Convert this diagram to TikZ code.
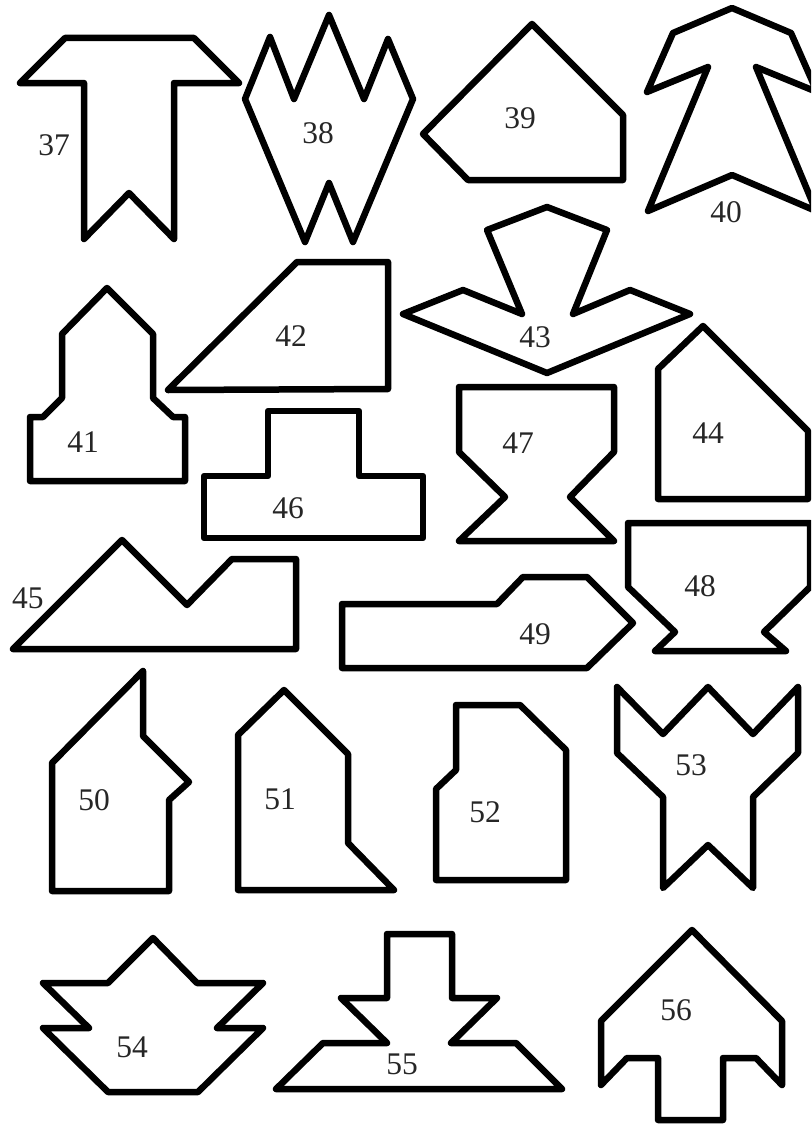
\documentclass[tikz,border=0pt]{standalone}
\usepackage{fontspec}
\setmainfont{Liberation Serif}
\begin{document}
\begin{tikzpicture}[x=1pt,y=-1pt,
  piece/.style={draw=black,line width=6.5pt,line join=round,line cap=round},
  lbl/.style={font=\fontsize{31.5}{31.5}\selectfont,inner sep=0pt,text=black!85}]
\useasboundingbox (0,0) rectangle (811,1124);
\fill[white] (0,0) rectangle (811,1124);
\clip (0,0) rectangle (811,1124);
% 37
\draw[piece] (20,83) -- (65,38) -- (194,38) -- (239,83) -- (174,83) -- (174,239) -- (129,193) -- (84,239) -- (84,83) -- cycle;
\node[lbl] (l37) at (54,145) {37};
% 38
\draw[piece] (270,37) -- (294,99) -- (329,15) -- (364,99) -- (388,39) -- (413,99) -- (353,242) -- (329,183) -- (305,242) -- (245,99) -- cycle;
\node[lbl] (l38) at (318,133) {38};
% 39
\draw[piece] (423,134) -- (532,24) -- (623,115) -- (623,180) -- (468,180) -- cycle;
\node[lbl] (l39) at (520,118) {39};
% 40
\draw[piece] (732,8) -- (791,33) -- (817,92) -- (756,67) -- (816,211) -- (732,175) -- (648,211) -- (708,67) -- (647,92) -- (673,33) -- cycle;
\node[lbl] (l40) at (726,212) {40};
% 41
\draw[piece] (107,288) -- (153,334) -- (153,398) -- (173,417) -- (185,417) -- (185,481) -- (30,481) -- (30,417) -- (43,417) -- (62,398) -- (62,334) -- cycle;
\node[lbl] (l41) at (83,442) {41};
% 42
\draw[piece] (168,390) -- (297,262) -- (388,262) -- (388,389) -- cycle;
\node[lbl] (l42) at (291,336) {42};
% 43
\draw[piece] (547,207) -- (607,230) -- (573,314) -- (630,290) -- (690,314) -- (547,373) -- (403,314) -- (463,290) -- (522,314) -- (487,230) -- cycle;
\node[lbl] (l43) at (535,337) {43};
% 44
\draw[piece] (703,326) -- (808,431) -- (808,499) -- (658,499) -- (658,369) -- cycle;
\node[lbl] (l44) at (708,433) {44};
% 46
\draw[piece] (204,476) -- (268,476) -- (268,411) -- (359,411) -- (359,476) -- (423,476) -- (423,538) -- (204,538) -- cycle;
\node[lbl] (l46) at (288,508) {46};
% 47
\draw[piece] (459,387) -- (614,387) -- (614,452) -- (570,497) -- (614,541) -- (459,541) -- (505,497) -- (459,452) -- cycle;
\node[lbl] (l47) at (518,443) {47};
% 45
\draw[piece] (13,649) -- (122,540) -- (187,605) -- (232,559) -- (296,559) -- (296,649) -- cycle;
\node[lbl] (l45) at (28,598) {45};
% 48
\draw[piece] (628,523) -- (810,523) -- (810,587) -- (764,632) -- (786,651) -- (655,651) -- (675,632) -- (628,587) -- cycle;
\node[lbl] (l48) at (700,586) {48};
% 49
\draw[piece] (342,604) -- (497,604) -- (523,577) -- (587,577) -- (633,623) -- (587,668) -- (342,668) -- cycle;
\node[lbl] (l49) at (535,634) {49};
% 50
\draw[piece] (143,671) -- (143,736) -- (189,782) -- (169,800) -- (169,891) -- (52,891) -- (52,763) -- cycle;
\node[lbl] (l50) at (94,800) {50};
% 51
\draw[piece] (284,690) -- (348,754) -- (348,843) -- (394,890) -- (238,890) -- (238,735) -- cycle;
\node[lbl] (l51) at (280,799) {51};
% 52
\draw[piece] (456,705) -- (520,705) -- (566,750) -- (566,880) -- (436,880) -- (436,789) -- (456,770) -- cycle;
\node[lbl] (l52) at (485,812) {52};
% 53
\draw[piece] (617,687) -- (663,734) -- (708,687) -- (753,734) -- (798,687) -- (798,753) -- (753,797) -- (753,888) -- (708,845) -- (663,888) -- (663,797) -- (617,753) -- cycle;
\node[lbl] (l53) at (691,765) {53};
% 54
\draw[piece] (153,938) -- (197,983) -- (263,983) -- (217,1028) -- (263,1028) -- (198,1092) -- (108,1092) -- (43,1028) -- (89,1028) -- (43,983) -- (108,983) -- cycle;
\node[lbl] (l54) at (132,1047) {54};
% 55
\draw[piece] (387,934) -- (452,934) -- (452,998) -- (497,998) -- (451,1043) -- (516,1043) -- (562,1089) -- (276,1089) -- (323,1043) -- (387,1043) -- (341,998) -- (387,998) -- cycle;
\node[lbl] (l55) at (402,1064) {55};
% 56
\draw[piece] (692,930) -- (782,1021) -- (782,1085) -- (756,1058) -- (723,1058) -- (723,1120) -- (658,1120) -- (658,1058) -- (627,1058) -- (601,1085) -- (601,1021) -- cycle;
\node[lbl] (l56) at (676,1010) {56};
\end{tikzpicture}
\end{document}
